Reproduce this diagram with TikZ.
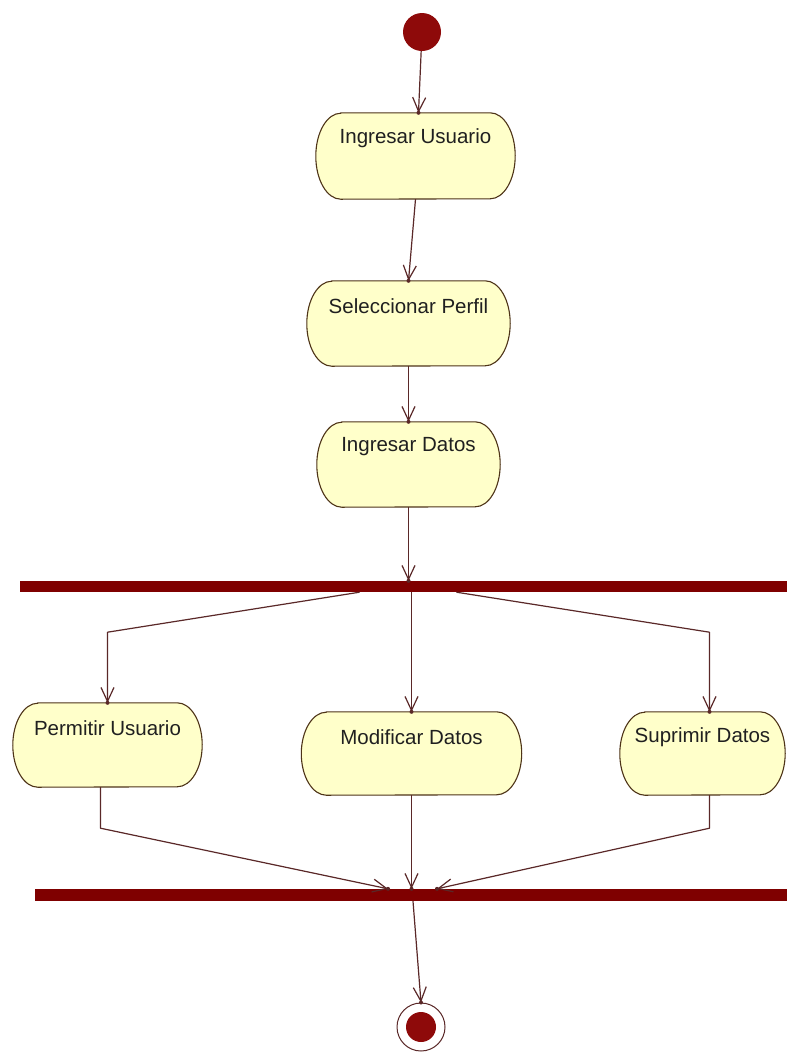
\documentclass[tikz,border=0pt]{standalone}
\usepackage{fontspec}
\setmainfont{Liberation Sans}
\usetikzlibrary{arrows.meta,calc}

\definecolor{barred}{HTML}{7F0000}
\definecolor{dotred}{HTML}{8E0A0A}
\definecolor{flowline}{HTML}{5A2828}
\definecolor{boxline}{HTML}{4E3418}
\definecolor{boxfill}{HTML}{FFFFCA}
\definecolor{boxtext}{HTML}{202020}

% activity: name, centre x, centre y, width, height, half height, text
\newcommand\activity[7]{%
  \node[actframe, minimum width=#4pt, minimum height=#5pt] (#1) at (#2,#3) {};
  \draw[actoutline]
    ([xshift=25pt]#1.north west) -- ([xshift=-25pt]#1.north east)
    arc[start angle=90, end angle=-90, x radius=25pt, y radius=#6pt]
    -- ([xshift=25pt]#1.south west)
    arc[start angle=270, end angle=90, x radius=25pt, y radius=#6pt]
    -- cycle;
  \node[acttext] (#1-label) at ([yshift=-25pt]#1.north) {#7};
}

\begin{document}
\begin{tikzpicture}[x=1pt, y=-1pt,
  actframe/.style={inner sep=0pt, draw=none},
  actoutline/.style={draw=boxline, fill=boxfill, line width=1.1pt},
  acttext/.style={text=boxtext, font=\fontsize{20.5}{24}\selectfont, inner sep=0pt},
  syncbar/.style={fill=barred, draw=none, inner sep=0pt},
  flow/.style={draw=flowline, line width=1.2pt, line join=round,
    -{Straight Barb[length=14pt, width=13pt]}},
  tipdot/.style={fill=flowline, circle, inner sep=0pt, minimum size=4pt}
]
\useasboundingbox (0,0) rectangle (787,1053);
\fill[white] (0,0) rectangle (787,1053);

% initial node
\node[circle, fill=dotred, minimum size=38pt, inner sep=0pt] (start) at (422,32) {};

% activities
\activity{iu}{415.5}{156}{199}{86}{43}{Ingresar Usuario}
\activity{sp}{408.5}{323.5}{203}{85}{42.5}{Seleccionar Perfil}
\activity{id}{408.5}{464.5}{183}{85}{42.5}{Ingresar Datos}
\activity{pu}{107.5}{745}{189}{84}{42}{Permitir Usuario}
\activity{md}{411.5}{753.5}{220}{83}{41.5}{Modificar Datos}
\activity{sd}{702.5}{753.5}{165}{83}{41.5}{Suprimir Datos}

% fork and join bars
\node[syncbar, minimum width=767pt, minimum height=11pt] (fork) at (403.5,586.5) {};
\node[syncbar, minimum width=752pt, minimum height=12pt] (join) at (411,895) {};

% final node
\node[circle, draw=flowline, fill=white, line width=1pt, minimum size=48pt, inner sep=0pt] (end) at (421,1027) {};
\node[circle, fill=dotred, minimum size=30pt, inner sep=0pt] (endcore) at (end.center) {};

% arrival points of the flows
\coordinate (iuin) at ($(iu.north)+(3,0)$);
\coordinate (idout) at (id.south |- fork.north);
\coordinate (sdin) at ($(sd.north)+(7,0)$);
\coordinate (jleft) at ($(join.north)+(-23,0)$);
\coordinate (jmid) at (md.south |- join.north);
\coordinate (jright) at ($(join.north)+(26,0)$);

% sequential flow
\draw[flow] (start) -- (iuin);
\draw[flow] (iu.south) -- (sp.north);
\draw[flow] (sp.south) -- (id.north);
\draw[flow] (id.south) -- (idout);

% fork branches
\draw[flow] ($(fork.south)+(-44,0)$) -- ($(pu.north |- fork.south)+(0,40)$) -- (pu.north);
\draw[flow] (md.north |- fork.south) -- (md.north);
\draw[flow] ($(fork.south)+(53,0)$) -- ($(sdin |- fork.south)+(0,40)$) -- (sdin);

% join branches
\draw[flow] ($(pu.south)+(-7,0)$) -- ($(pu.south)+(-7,41)$) -- (jleft);
\draw[flow] (md.south) -- (jmid);
\draw[flow] ($(sd.south)+(7,0)$) -- ($(sd.south)+(7,33)$) -- (jright);

% to final node
\draw[flow] ($(join.south)+(2,0)$) -- (end.north);

% small dots where each flow meets its target
\foreach \p [count=\i] in {iuin, sp.north, id.north, idout, pu.north, md.north,
    sdin, jleft, jmid, jright, end.north}
  \node[tipdot] (dot\i) at (\p) {};
\end{tikzpicture}
\end{document}
